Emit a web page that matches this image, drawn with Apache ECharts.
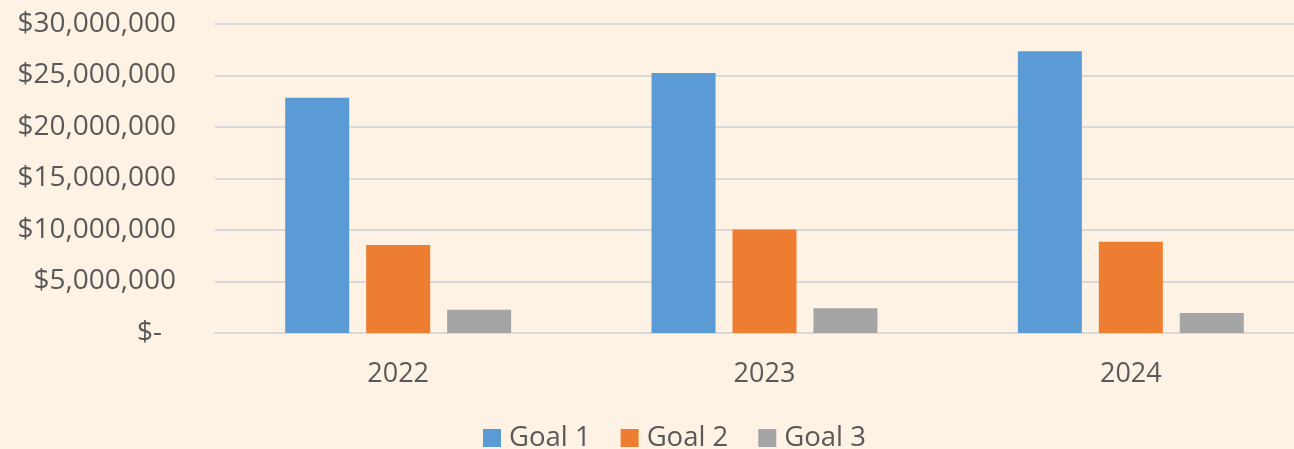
<!DOCTYPE html>
<html>
<head>
<meta charset="utf-8">
<style>
  html, body { margin: 0; padding: 0; background: #FDF2E3; }
  #chart { width: 1294px; height: 449px; }
</style>
<script src="https://cdn.jsdelivr.net/npm/echarts@6/dist/echarts.min.js"></script>
</head>
<body>
<div id="chart"></div>
<script>
// Yearly totals per goal (USD)
const years = ['2022', '2023', '2024'];
const goal1 = [22850000, 25250000, 27350000];
const goal2 = [8550000, 10050000, 8850000];
const goal3 = [2250000, 2400000, 1950000];
const seriesNames = ['Goal 1', 'Goal 2', 'Goal 3'];
const seriesColors = ['#5B9BD5', '#ED7D31', '#A5A5A5'];

const FONT = 'Open Sans';
const TEXT = '#595959';
const GRID_LINE = '#D9D9D9';

function money(v) {
  if (v === 0) return '{z|$-}';
  return '$' + v.toLocaleString('en-US');
}

const chart = echarts.init(document.getElementById('chart'));
chart.setOption({
  backgroundColor: '#FDF2E3',
  animation: false,
  textStyle: { fontFamily: FONT },
  grid: {
    left: 215, top: 24, width: 1099, height: 309,
    containLabel: false,
    outerBoundsMode: 'none'
  },
  legend: {
    data: seriesNames,
    left: 483,
    top: 424,
    padding: 0,
    itemWidth: 18,
    itemHeight: 18,
    itemGap: 30,
    icon: 'rect',
    textStyle: { fontFamily: FONT, fontSize: 27.5, color: TEXT, padding: [0, 0, 0, 3] }
  },
  xAxis: {
    type: 'category',
    data: years,
    axisTick: { show: false },
    axisLine: { lineStyle: { color: GRID_LINE, width: 2 } },
    axisLabel: { fontFamily: FONT, fontSize: 27, color: TEXT, margin: 28 }
  },
  yAxis: {
    type: 'value',
    min: 0,
    max: 30000000,
    interval: 5000000,
    axisLine: { show: false },
    axisTick: { show: false },
    splitLine: { lineStyle: { color: GRID_LINE, width: 2 } },
    axisLabel: {
      fontFamily: FONT, fontSize: 28, color: TEXT, margin: 39,
      formatter: money,
      rich: { z: { fontFamily: FONT, fontSize: 28, color: TEXT, padding: [0, 14, 0, 0] } }
    }
  },
  series: [goal1, goal2, goal3].map((vals, i) => ({
    name: seriesNames[i],
    type: 'bar',
    data: vals,
    barWidth: 64,
    barGap: '26.5%',
    itemStyle: { color: seriesColors[i] }
  }))
});
</script>
</body>
</html>
